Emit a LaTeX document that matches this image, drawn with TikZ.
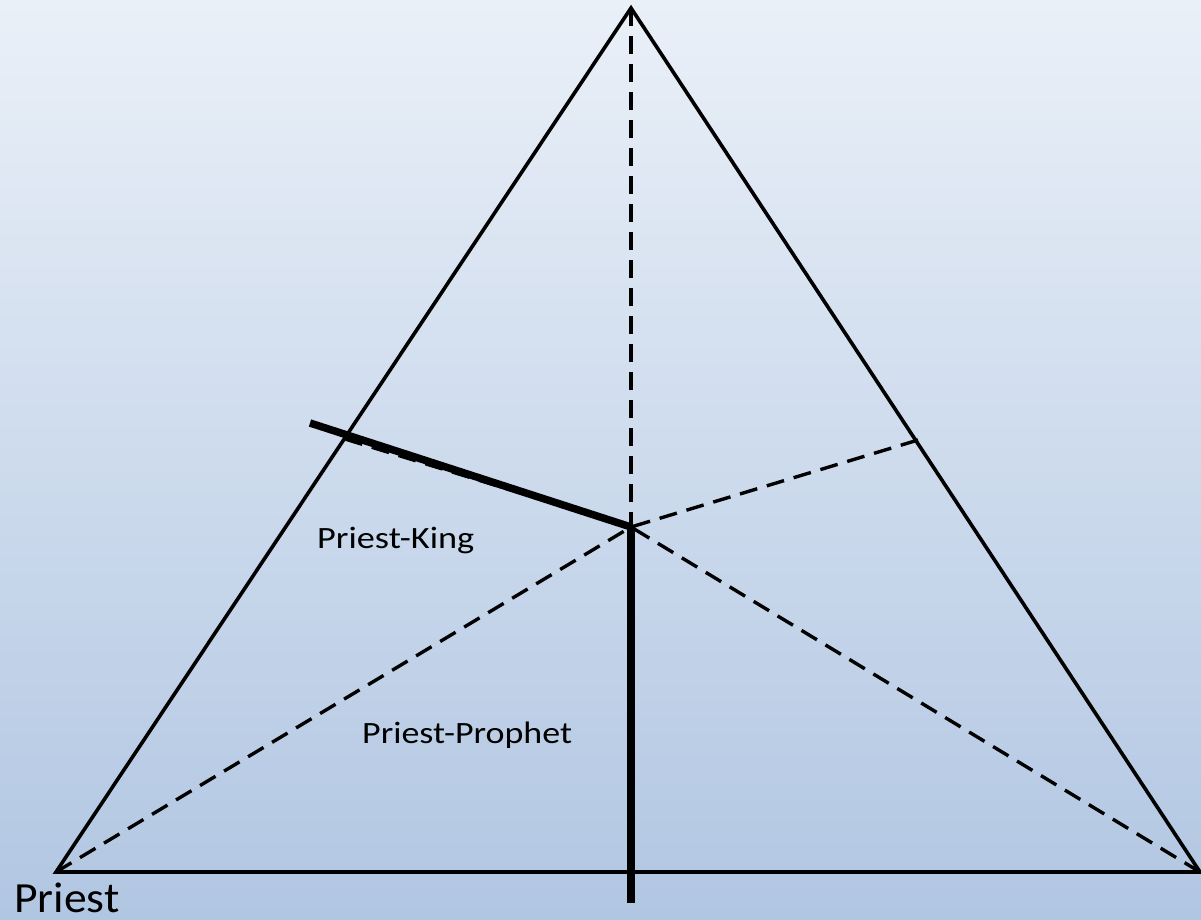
\documentclass[tikz,border=0pt]{standalone}
\usepackage{fontspec}
\setmainfont{Carlito}
\definecolor{bgtop}{HTML}{EAF0F8}
\definecolor{bgbot}{HTML}{B1C6E2}
\begin{document}
\begin{tikzpicture}[x=1pt,y=-1pt,
  side/.style={line width=3.6pt,line join=miter},
  dsh/.style={line width=3.4pt,dash pattern=on 18pt off 10pt},
  heavy/.style={line width=7.5pt},
  lbl/.style={inner sep=0pt,anchor=base west,font=\fontsize{31}{31}\selectfont}]
\shade[top color=bgtop,bottom color=bgbot] (0,0) rectangle (1201,919);
\useasboundingbox (0,0) rectangle (1201,919);
\coordinate (T) at (631,8);
\coordinate (BL) at (56,872);
\coordinate (BR) at (1200,872);
\coordinate (C) at (631,527);
\coordinate (L) at (345,439);
\coordinate (R) at (918,440);
\coordinate (K) at (310,423);
\coordinate (D) at (631,903);
\draw[dsh] (T) -- (C);
\draw[dsh] (L) -- (C);
\draw[dsh] (R) -- (C);
\draw[dsh] (BL) -- (C);
\draw[dsh] (BR) -- (C);
\draw[side] (T) -- (BL) -- (BR) -- cycle;
\draw[heavy] (K) -- (C);
\draw[heavy] (C) -- (D);
\node[lbl] (pk) at (317,548) {\scalebox{1.17}[1]{Priest-King}};
\node[lbl] (pp) at (362,743) {\scalebox{1.16}[1]{Priest-Prophet}};
\node[lbl,font=\fontsize{43}{43}\selectfont] (p) at (14,912) {\scalebox{1.06}[1]{Priest}};
\end{tikzpicture}
\end{document}
